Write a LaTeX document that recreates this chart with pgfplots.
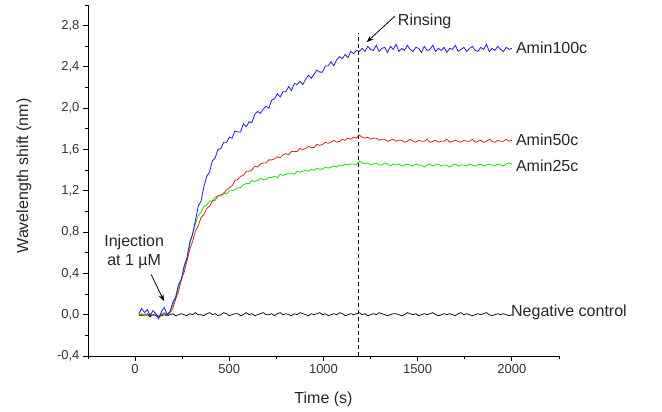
\documentclass[border=0pt]{standalone}
\usepackage{pgfplots}
\pgfplotsset{compat=1.18}
\usepackage{pgfplotstable}
\usepackage{fontspec}
\setmainfont{Liberation Sans}
\usetikzlibrary{arrows.meta}
\definecolor{cblue}{RGB}{30,30,225}
\definecolor{cred}{RGB}{215,40,40}
\definecolor{cgreen}{RGB}{20,225,20}

\pgfplotstableread{
t B R G K
20 0.01 0.00 0.00 -0.01
35 0.06 -0.01 0.01 0.00
50 0.02 0.00 -0.01 -0.01
65 0.05 0.01 0.00 0.00
80 -0.01 -0.01 0.01 -0.02
95 0.04 0.00 -0.01 0.00
110 0.01 0.01 0.00 -0.01
125 -0.04 -0.02 -0.01 -0.02
140 0.03 0.00 0.01 -0.01
155 0.07 0.01 0.02 0.00
170 0.00 -0.01 0.00 -0.01
185 0.03 0.02 0.03 0.00
200 0.12 0.06 0.09 0.01
215 0.17 0.15 0.16 -0.01
230 0.29 0.22 0.26 0.00
245 0.34 0.34 0.33 0.01
260 0.47 0.41 0.45 0.00
275 0.55 0.52 0.54 -0.01
290 0.70 0.63 0.68 0.01
305 0.78 0.71 0.78 0.00
320 0.91 0.81 0.88 0.02
335 1.05 0.86 0.96 0.00
350 1.10 0.94 0.99 0.00
365 1.24 0.97 1.05 -0.01
380 1.34 1.03 1.06 0.01
395 1.38 1.05 1.10 0.02
410 1.49 1.10 1.10 0.00
425 1.52 1.11 1.14 0.01
440 1.60 1.15 1.15 -0.01
455 1.61 1.16 1.15 0.00
470 1.67 1.17 1.18 0.02
485 1.67 1.21 1.17 0.01
500 1.72 1.23 1.20 -0.01
515 1.71 1.25 1.20 0.00
530 1.78 1.30 1.21 0.01
545 1.77 1.31 1.23 0.01
560 1.77 1.34 1.23 -0.01
575 1.85 1.35 1.26 0.00
590 1.82 1.39 1.27 0.02
605 1.87 1.39 1.27 0.00
620 1.86 1.40 1.30 0.01
635 1.94 1.44 1.29 -0.01
650 1.97 1.43 1.30 0.00
665 1.95 1.46 1.32 0.01
680 1.99 1.47 1.31 0.02
695 2.02 1.47 1.31 0.00
710 2.00 1.50 1.33 0.00
725 2.08 1.50 1.33 0.01
740 2.09 1.51 1.34 -0.01
755 2.14 1.53 1.33 0.01
770 2.11 1.52 1.36 0.02
785 2.16 1.55 1.35 0.00
800 2.16 1.56 1.36 0.01
815 2.21 1.55 1.37 0.00
830 2.17 1.58 1.37 -0.01
845 2.24 1.58 1.36 0.01
860 2.23 1.58 1.39 0.00
875 2.26 1.61 1.38 0.02
890 2.23 1.60 1.39 0.01
905 2.28 1.61 1.40 0.00
920 2.32 1.63 1.39 -0.01
935 2.29 1.62 1.41 0.01
950 2.33 1.62 1.40 0.00
965 2.37 1.65 1.42 0.01
980 2.35 1.64 1.41 0.02
995 2.35 1.65 1.41 0.00
1010 2.41 1.67 1.43 0.01
1025 2.41 1.66 1.42 -0.01
1040 2.45 1.67 1.43 0.00
1055 2.41 1.69 1.44 0.01
1070 2.47 1.67 1.43 0.00
1085 2.50 1.68 1.45 0.02
1100 2.48 1.70 1.44 0.01
1115 2.52 1.69 1.46 -0.01
1130 2.49 1.71 1.45 0.00
1145 2.55 1.70 1.46 0.01
1160 2.53 1.72 1.46 0.00
1175 2.56 1.71 1.45 0.01
1190 2.55 1.74 1.49 0.02
1205 2.58 1.72 1.47 0.00
1220 2.55 1.71 1.46 0.01
1235 2.60 1.72 1.47 -0.01
1250 2.57 1.70 1.45 0.00
1265 2.56 1.71 1.46 0.01
1280 2.61 1.71 1.47 0.00
1295 2.55 1.69 1.45 0.02
1310 2.58 1.70 1.45 0.01
1325 2.59 1.70 1.47 0.00
1340 2.54 1.68 1.46 -0.01
1355 2.60 1.69 1.44 0.00
1370 2.57 1.70 1.46 0.01
1385 2.62 1.68 1.45 0.01
1400 2.55 1.69 1.46 0.00
1415 2.58 1.69 1.44 -0.01
1430 2.56 1.67 1.45 0.00
1445 2.61 1.68 1.46 0.02
1460 2.57 1.70 1.45 0.01
1475 2.55 1.68 1.44 0.00
1490 2.59 1.67 1.46 0.01
1505 2.58 1.69 1.45 -0.01
1520 2.54 1.68 1.45 0.00
1535 2.60 1.68 1.43 0.01
1550 2.56 1.70 1.45 0.00
1565 2.57 1.67 1.46 0.01
1580 2.61 1.68 1.44 0.02
1595 2.55 1.69 1.45 0.00
1610 2.58 1.67 1.46 -0.01
1625 2.56 1.68 1.44 0.00
1640 2.59 1.68 1.45 0.01
1655 2.54 1.70 1.45 0.00
1670 2.58 1.67 1.43 0.01
1685 2.57 1.68 1.45 0.00
1700 2.61 1.69 1.46 -0.01
1715 2.55 1.68 1.44 0.01
1730 2.57 1.67 1.45 0.02
1745 2.59 1.69 1.45 0.00
1760 2.55 1.68 1.44 0.01
1775 2.58 1.68 1.46 0.00
1790 2.60 1.70 1.45 -0.01
1805 2.56 1.67 1.44 0.00
1820 2.55 1.68 1.45 0.01
1835 2.59 1.69 1.46 0.00
1850 2.57 1.67 1.44 0.01
1865 2.62 1.68 1.45 0.02
1880 2.55 1.70 1.46 0.00
1895 2.58 1.68 1.45 -0.01
1910 2.56 1.67 1.44 0.00
1925 2.60 1.69 1.46 0.01
1940 2.57 1.68 1.45 0.00
1955 2.55 1.68 1.44 0.01
1970 2.59 1.70 1.46 0.00
1985 2.57 1.68 1.47 -0.01
2000 2.58 1.69 1.46 0.00
}\datatable

\begin{document}
\begin{tikzpicture}
\useasboundingbox (-88pt,-56pt) rectangle (574pt,356pt);
\begin{axis}[
  at={(0pt,0pt)}, anchor=south west,
  scale only axis, width=471pt, height=351pt,
  xmin=-250, xmax=2250, ymin=-0.4, ymax=3.0,
  axis lines=left, axis line style={-, line width=0.9pt, black},
  xtick={0,500,1000,1500,2000},
  minor xtick={-250,250,750,1250,1750,2250},
  ytick={-0.4,0,0.4,0.8,1.2,1.6,2.0,2.4,2.8},
  minor ytick={-0.2,0.2,0.6,1.0,1.4,1.8,2.2,2.6,3.0},
  tick align=outside, major tick length=5pt, minor tick length=3pt,
  tick style={line width=0.9pt, black},
  every tick label/.append style={font=\fontsize{13}{13}\selectfont, text=black!80},
  /pgf/number format/assume math mode=true,
  xticklabel style={/pgf/number format/.cd, 1000 sep={}},
  yticklabel style={/pgf/number format/.cd, fixed, fixed zerofill, precision=1, use comma},
  clip=false,
]
\addplot[black, line width=0.7pt] table[x=t, y=K] {\datatable};
\addplot[cgreen, line width=0.8pt] table[x=t, y=G] {\datatable};
\addplot[cred, line width=0.8pt] table[x=t, y=R] {\datatable};
\addplot[cblue, line width=0.8pt] table[x=t, y=B] {\datatable};

\draw[black, line width=0.8pt, dash pattern=on 4pt off 3pt] (axis cs:1186,-0.4) -- (axis cs:1186,2.73);

\node[font=\fontsize{16}{19}\selectfont, align=center, text=black!85] at (axis cs:-5,0.606) {Injection\\at 1 µM};
\draw[-{Stealth[length=7pt,width=5pt]}, line width=0.8pt] (axis cs:85,0.39) -- (axis cs:154,0.13);

\node[font=\fontsize{16}{16}\selectfont, text=black!85] at (axis cs:1537,2.84) {Rinsing};
\draw[-{Stealth[length=7pt,width=5pt]}, line width=0.8pt] (axis cs:1378,2.89) -- (axis cs:1229,2.64);

\node[font=\fontsize{16}{16}\selectfont, anchor=west, inner sep=0pt, text=black!85] at (axis cs:2021,2.587) {Amin100c};
\node[font=\fontsize{16}{16}\selectfont, anchor=west, inner sep=0pt, text=black!85] at (axis cs:2021,1.696) {Amin50c};
\node[font=\fontsize{16}{16}\selectfont, anchor=west, inner sep=0pt, text=black!85] at (axis cs:2021,1.444) {Amin25c};
\node[font=\fontsize{16}{16}\selectfont, anchor=west, inner sep=0pt, text=black!85] at (axis cs:1995,0.02) {Negative control};

\node[font=\fontsize{16}{16}\selectfont, rotate=90, text=black!85] at ([xshift=-64pt]rel axis cs:0,0.513) {Wavelength shift (nm)};
\node[font=\fontsize{16}{16}\selectfont, text=black!85] at ([yshift=-43pt]axis cs:1000,-0.4) {Time (s)};
\end{axis}
\end{tikzpicture}
\end{document}
